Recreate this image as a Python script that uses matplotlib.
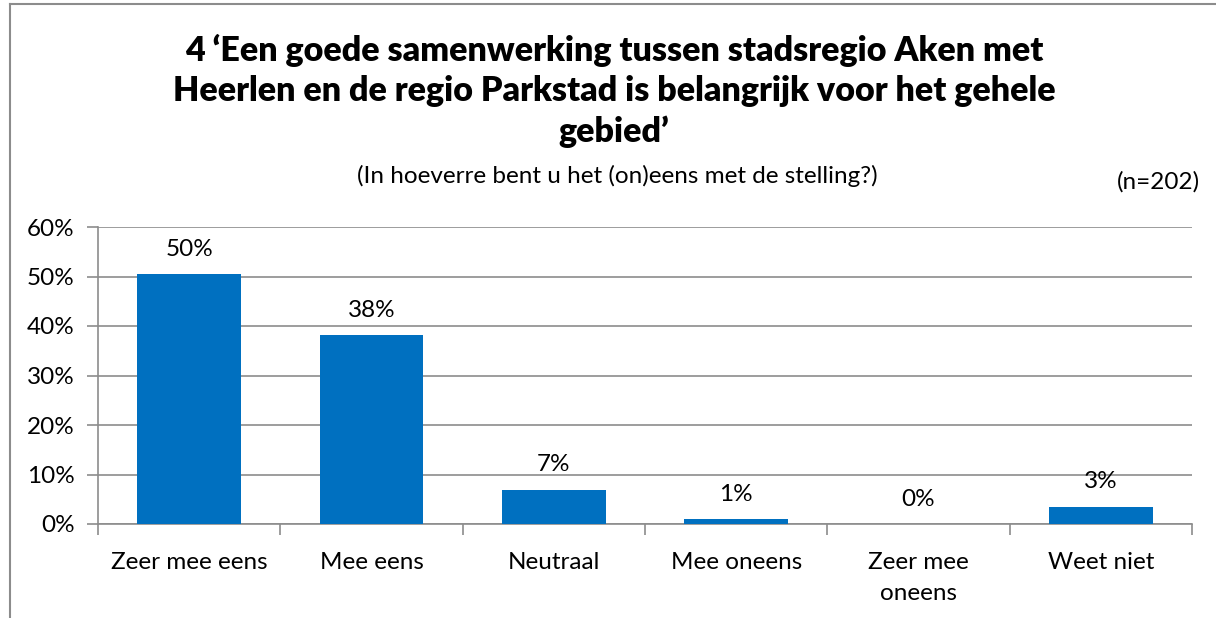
import matplotlib
matplotlib.use("Agg")
import matplotlib.pyplot as plt
from matplotlib.lines import Line2D
import numpy as np

categories = ["Zeer mee eens", "Mee eens", "Neutraal", "Mee oneens", "Zeer mee\noneens", "Weet niet"]
values = [50.5, 38.1, 6.9, 1.0, 0.0, 3.5]
labels = ["50%", "38%", "7%", "1%", "0%", "3%"]
yticks = [0, 10, 20, 30, 40, 50, 60]

title = "4 \u2018Een goede samenwerking tussen stadsregio Aken met\nHeerlen en de regio Parkstad is belangrijk voor het gehele\ngebied\u2019"
subtitle = "(In hoeverre bent u het (on)eens met de stelling?)"
ntext = "(n=202)"

plt.rcParams['font.family'] = ['Lato', 'DejaVu Sans']
FS = 17.5

W, H = 1216, 618
fig = plt.figure(figsize=(W/100, H/100), dpi=100)
ax = fig.add_axes([98/W, 1-524/H, (1192-98)/W, (524-227)/H])

x = np.arange(len(categories))
ax.bar(x, values, width=0.57, color="#0070C0", zorder=3)
ax.set_xlim(-0.5, len(categories)-0.5)
ax.set_ylim(0, 60)
ax.set_yticks(yticks)
ax.set_yticklabels([f"{t}%" for t in yticks], fontsize=FS)
ax.yaxis.grid(True, color="#8c8c8c", linewidth=1.2, zorder=0)
ax.set_axisbelow(True)
for s in ["top", "right"]:
    ax.spines[s].set_visible(False)
for s in ["left", "bottom"]:
    ax.spines[s].set_color("#8c8c8c")
    ax.spines[s].set_linewidth(1.2)
ax.tick_params(axis="y", length=8, width=1.2, color="#8c8c8c", pad=9)

ax.set_xticks(np.arange(-0.5, len(categories), 1.0))
ax.set_xticklabels([])
ax.tick_params(axis="x", length=8, width=1.2, color="#8c8c8c")
for xi, c in zip(x, categories):
    ax.text(xi, -0.095, c, transform=ax.get_xaxis_transform(), ha="center", va="top",
            fontsize=FS, linespacing=1.55)

for xi, v, l in zip(x, values, labels):
    ax.annotate(l, (xi, v), xytext=(0, 18), textcoords="offset points",
                ha="center", va="center", fontsize=FS)

fig.text(614/W, 1-91/H, title, ha="center", va="center", fontsize=24.5, fontweight="heavy",
         linespacing=1.3)
fig.text(617/W, 1-176/H, subtitle, ha="center", va="center", fontsize=FS)
fig.text(1200/W, 1-182/H, ntext, ha="right", va="center", fontsize=FS)

fig.add_artist(Line2D([10/W, 10/W], [0, 1-4/H], color="#8c8c8c", linewidth=1.5, transform=fig.transFigure))
fig.add_artist(Line2D([10/W, 1], [1-4/H, 1-4/H], color="#8c8c8c", linewidth=1.5, transform=fig.transFigure))

fig.savefig("out.png", dpi=100, facecolor="white")
